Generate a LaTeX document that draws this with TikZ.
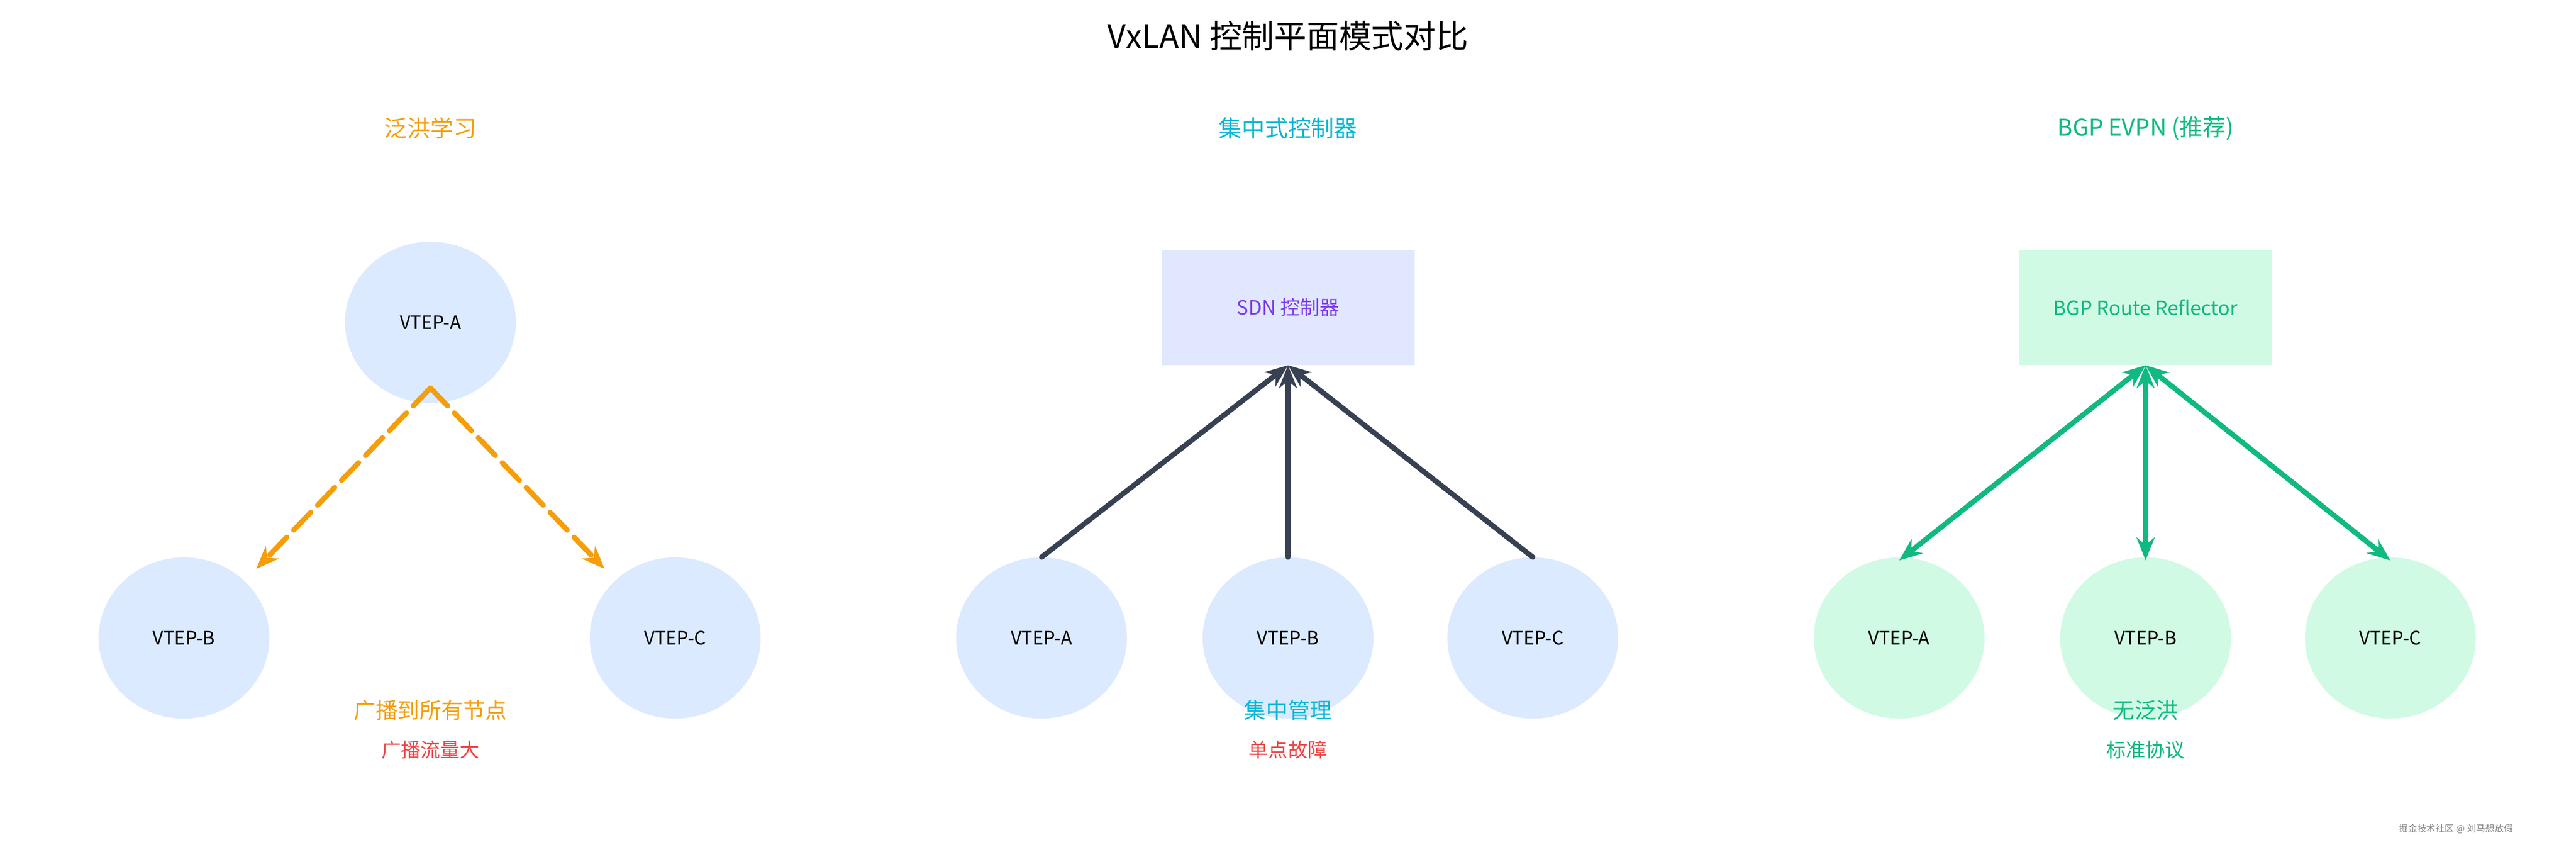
\documentclass[tikz,border=0pt]{standalone}
\usepackage{fontspec}
\setmainfont{Noto Sans CJK SC}
\usetikzlibrary{arrows.meta,shapes.geometric,positioning}
\definecolor{floodorange}{HTML}{F59E0B}
\definecolor{badred}{HTML}{EF4444}
\definecolor{sdncyan}{HTML}{06B6D4}
\definecolor{evpngreen}{HTML}{10B981}
\definecolor{vtepblue}{HTML}{DBEAFE}
\definecolor{vtepgreen}{HTML}{D1FAE5}
\definecolor{ctlfill}{HTML}{E0E7FF}
\definecolor{ctltext}{HTML}{7C3AED}
\definecolor{linkgray}{HTML}{374151}
\tikzset{
    vtep/.style = {ellipse, fill=vtepblue, minimum width=5.2cm, minimum height=4.9cm, inner sep=0pt, font=\fontsize{16}{20}\selectfont},
    gvtep/.style = {vtep, fill=vtepgreen},
    ctl/.style = {rectangle, minimum width=7.7cm, minimum height=3.5cm, inner sep=0pt, font=\fontsize{17}{20}\selectfont},
    head/.style = {font=\fontsize{20}{24}\selectfont},
    note/.style = {font=\fontsize{19}{22}\selectfont},
    link/.style = {line width=4.5pt, line cap=round}
}
\begin{document}
\begin{tikzpicture}[x=0.05cm, y=-0.05cm]
    \useasboundingbox (0,0) rectangle (1568,521);
    \node (title) [font=\fontsize{28}{32}\selectfont] at (784,22) {VxLAN 控制平面模式对比};
    % flooding
    \node (fhead) [head, floodorange] at (262,78) {泛洪学习};
    \node (fa) [vtep] at (262,196) {VTEP-A};
    \node (fb) [vtep] at (112,388) {VTEP-B};
    \node (fc) [vtep] at (411,388) {VTEP-C};
    \coordinate (fsrc) at (262,236);
    \coordinate (fbtip) at (156,346);
    \coordinate (fctip) at (368,346);
    \draw [link, floodorange, dash pattern=on 0.75cm off 0.3cm, -{Stealth[length=0.7cm, width=0.55cm]}] (fsrc) -- (fbtip);
    \draw [link, floodorange, dash pattern=on 0.75cm off 0.3cm, -{Stealth[length=0.7cm, width=0.55cm]}] (fsrc) -- (fctip);
    \node (fnote) [note, floodorange] at (262,432) {广播到所有节点};
    \node (fbad) [note, badred, font=\fontsize{17}{20}\selectfont] at (262,456) {广播流量大};
    % controller
    \node (shead) [head, sdncyan] at (784,78) {集中式控制器};
    \node (sdn) [ctl, fill=ctlfill, text=ctltext] at (784,187) {SDN 控制器};
    \node (sa) [vtep] at (634,388) {VTEP-A};
    \node (sb) [vtep] at (784,388) {VTEP-B};
    \node (sc) [vtep] at (933,388) {VTEP-C};
    \foreach \v in {sa,sb,sc}
        \draw [link, linkgray, -{Stealth[length=0.7cm, width=0.55cm]}] (\v.north) -- (sdn.south);
    \node (snote) [note, sdncyan] at (784,432) {集中管理};
    \node (sbad) [note, badred, font=\fontsize{17}{20}\selectfont] at (784,456) {单点故障};
    % evpn
    \node (ehead) [head, evpngreen] at (1306,78) {BGP EVPN (推荐)};
    \node (rr) [ctl, fill=vtepgreen, text=evpngreen] at (1306,187) {BGP Route Reflector};
    \node (ea) [gvtep] at (1156,388) {VTEP-A};
    \node (eb) [gvtep] at (1306,388) {VTEP-B};
    \node (ec) [gvtep] at (1455,388) {VTEP-C};
    \foreach \v in {ea,eb,ec}
        \draw [link, evpngreen, {Stealth[length=0.7cm, width=0.55cm]}-{Stealth[length=0.7cm, width=0.55cm]}] (rr.south) -- ([yshift=-0.1cm]\v.north);
    \node (enote) [note, evpngreen] at (1306,432) {无泛洪};
    \node (ebad) [note, evpngreen, font=\fontsize{17}{20}\selectfont] at (1306,456) {标准协议};
    \node (mark) [font=\fontsize{8}{10}\selectfont, gray] at (1495,504) {掘金技术社区 @ 刘马想放假};
\end{tikzpicture}
\end{document}
